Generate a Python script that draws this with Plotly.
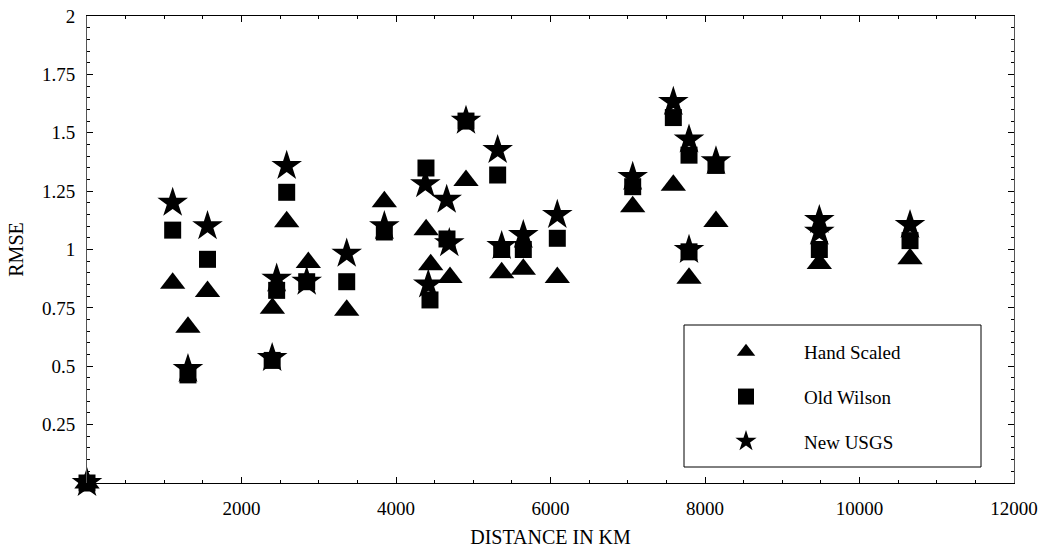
import plotly.graph_objects as go

# ---- data ----
hand_x = [0, 1109, 1307, 1560, 2400, 2585, 2865, 3362, 3849, 4390, 4449, 4699, 4906,
          5368, 5648, 6088, 7064, 7590, 7793, 8142, 9480, 10654]
hand_y = [0, 0.855, 0.667, 0.82, 0.748, 1.119, 0.944, 0.74, 1.204, 1.085, 0.935, 0.88, 1.295,
          0.90, 0.915, 0.88, 1.183, 1.275, 0.877, 1.12, 0.94, 0.96]

wilson_x = [0, 1109, 1307, 1560, 2397, 2455, 2585, 2844, 3362, 3849, 4388, 4440, 4660, 4906,
            5316, 5368, 5648, 6088, 7064, 7590, 7793, 7793, 8142, 9480, 10654]
wilson_y = [0, 1.083, 0.463, 0.958, 0.525, 0.825, 1.245, 0.862, 0.862, 1.075, 1.349, 0.784, 1.045, 1.55,
            1.319, 1.0, 1.0, 1.048, 1.269, 1.565, 1.404, 0.99, 1.36, 1.0, 1.038]

usgs_x = [0, 1109, 1307, 1560, 2397, 2455, 2585, 2844, 3362, 3849, 4380, 4418, 4656, 4690, 4906,
          5316, 5368, 5648, 6088, 7064, 7590, 7793, 7793, 8142, 9480, 9480, 10654]
usgs_y = [0, 1.20, 0.488, 1.10, 0.535, 0.875, 1.358, 0.862, 0.982, 1.10, 1.28, 0.85, 1.213, 1.027, 1.551,
          1.426, 1.015, 1.062, 1.148, 1.311, 1.632, 1.471, 0.998, 1.378, 1.126, 1.076, 1.105]

series_names = ["Hand Scaled", "Old Wilson", "New USGS"]
x_ticks = [2000, 4000, 6000, 8000, 10000, 12000]
y_ticks = [0.25, 0.5, 0.75, 1, 1.25, 1.5, 1.75, 2]
y_tick_text = ["0.25", "0.5", "0.75", "1", "1.25", "1.5", "1.75", "2"]

FONT = "Liberation Serif, Times New Roman, serif"
pad = "\u00a0" * 8

fig = go.Figure()
fig.add_trace(go.Scatter(x=hand_x, y=hand_y, mode="markers", name=pad + series_names[0],
                         legendgroup="a", cliponaxis=False,
                         marker=dict(symbol="triangle-up", size=22, color="black", line=dict(width=0))))
fig.add_trace(go.Scatter(x=wilson_x, y=wilson_y, mode="markers", name=pad + series_names[1],
                         legendgroup="b", cliponaxis=False,
                         marker=dict(symbol="square", size=17, color="black", line=dict(width=0))))
fig.add_trace(go.Scatter(x=usgs_x, y=usgs_y, mode="markers", name=pad + series_names[2],
                         legendgroup="c", cliponaxis=False,
                         marker=dict(symbol="star", size=23, color="black", line=dict(width=0))))

axis_common = dict(showgrid=False, zeroline=False, showline=True, mirror="allticks",
                   ticks="inside", ticklen=6, tickwidth=1, tickcolor="black", automargin=False,
                   tickfont=dict(family=FONT, size=19, color="black"))

fig.update_xaxes(range=[0, 12000], tickvals=x_ticks, ticktext=[str(v) for v in x_ticks],
                 linecolor="black", linewidth=1.3, ticklabelstandoff=8,
                 minor=dict(ticks="inside", dtick=500, ticklen=3, tickcolor="black", showgrid=False),
                 title=dict(text="DISTANCE IN KM", font=dict(family=FONT, size=20, color="black"),
                            standoff=12),
                 **axis_common)
fig.update_yaxes(range=[0, 2], tickvals=y_ticks, ticktext=y_tick_text,
                 linecolor="#555", linewidth=1, ticklabelstandoff=7,
                 minor=dict(ticks="inside", dtick=0.05, ticklen=3, tickcolor="black", showgrid=False),
                 title=dict(text="RMSE", font=dict(family=FONT, size=20, color="black"), standoff=12),
                 **axis_common)

# legend frame
fig.add_shape(type="rect", xref="paper", yref="paper",
              x0=(684 - 87) / 927, x1=(981 - 87) / 927,
              y0=(483 - 467) / 467, y1=(483 - 325) / 467,
              line=dict(color="black", width=1), fillcolor="white", layer="below")

fig.update_layout(
    width=1043, height=550,
    margin=dict(l=87, r=29, t=16, b=67),
    plot_bgcolor="white", paper_bgcolor="white",
    font=dict(family=FONT, size=19, color="black"),
    legend=dict(x=(726 - 87) / 927, y=(483 - 333) / 467, xanchor="left", yanchor="top",
                bgcolor="rgba(0,0,0,0)", borderwidth=0, tracegroupgap=17,
                traceorder="grouped", itemsizing="trace",
                font=dict(family=FONT, size=19, color="black")),
    showlegend=True,
)

fig.write_html("out.html", config={"displayModeBar": False},
               post_script="document.body.style.margin='0';")
